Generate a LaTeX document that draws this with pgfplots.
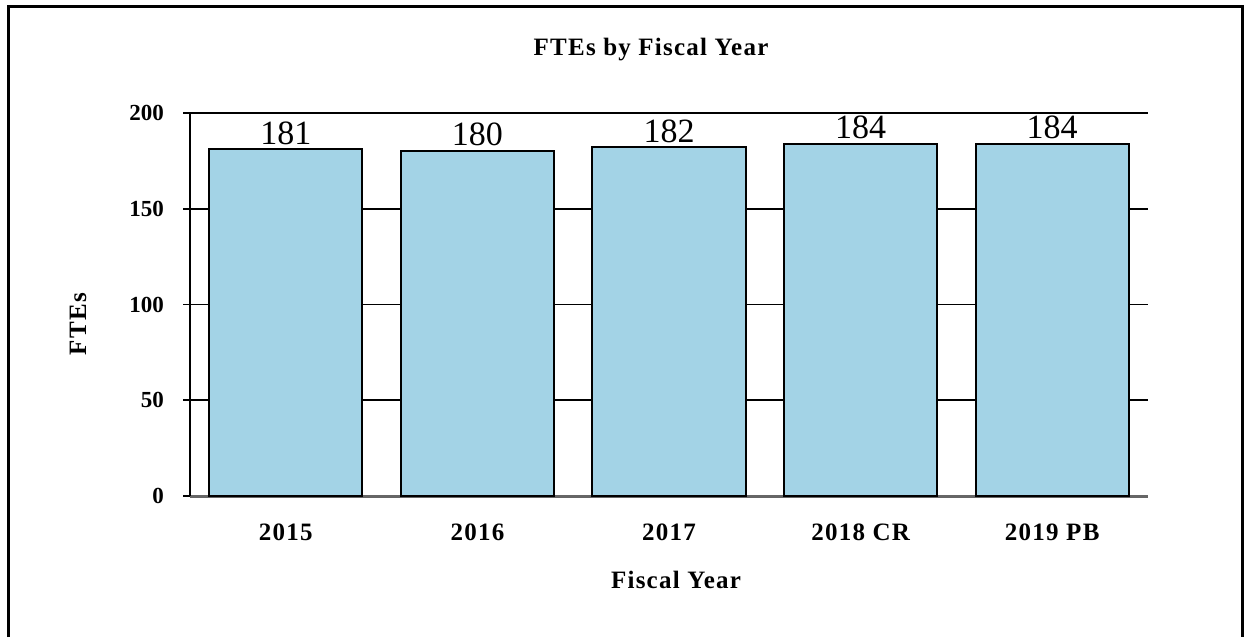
\documentclass[border=0pt]{standalone}
\usepackage{fontspec}
\setmainfont{Liberation Serif}
\newfontfamily\lbl[LetterSpace=5]{Liberation Serif}
\usepackage{pgfplots}
\pgfplotsset{compat=1.18}
\definecolor{barblue}{RGB}{163,211,230}
\begin{document}
\begin{tikzpicture}
\path (0,0) rectangle (622.5pt,317.5pt);
\draw[line width=1.5pt] (4pt,-1pt) -- (4pt,314pt) -- (621pt,314pt) -- (621pt,-1pt);
\begin{axis}[
  /pgf/number format/assume math mode=true,
  at={(95pt,69.5pt)}, anchor=south west,
  scale only axis, width=479pt, height=191.5pt,
  xmin=-0.5, xmax=4.5, ymin=0, ymax=200,
  ytick={0,50,100,150,200},
  xtick={0,1,2,3,4},
  xticklabels={2015,2016,2017,2018 CR,2019 PB},
  axis x line*=bottom, axis y line*=left,
  x axis line style={draw=gray!80!black, line width=1.5pt},
  y axis line style={black, line width=0.9pt},
  ymajorgrids, grid style={black, line width=0.9pt},
  major x tick style={draw=none},
  major y tick style={black, line width=0.9pt},
  tick align=outside, major tick length=3.5pt,
  yticklabel style={font=\fontsize{11.5}{12}\selectfont\bfseries, xshift=-6pt},
  xticklabel style={font=\lbl\fontsize{12.5}{13}\selectfont\bfseries, yshift=-7pt},
  ybar, bar width=0.8,
  nodes near coords,
  every node near coord/.append style={font=\fontsize{17}{17}\selectfont, inner sep=2pt, black},
]
\addplot[fill=barblue, draw=black, line width=1pt] coordinates {(0,181) (1,180) (2,182) (3,184) (4,184)};
\end{axis}
\node[font=\lbl\fontsize{12.5}{13}\selectfont\bfseries] at (325.5pt,292.5pt) {FTEs by Fiscal Year};
\node[font=\lbl\fontsize{12.5}{13}\selectfont\bfseries, rotate=90] at (39pt,155.5pt) {FTEs};
\node[font=\lbl\fontsize{12.5}{13}\selectfont\bfseries] at (338pt,27.5pt) {Fiscal Year};
\end{tikzpicture}
\end{document}
